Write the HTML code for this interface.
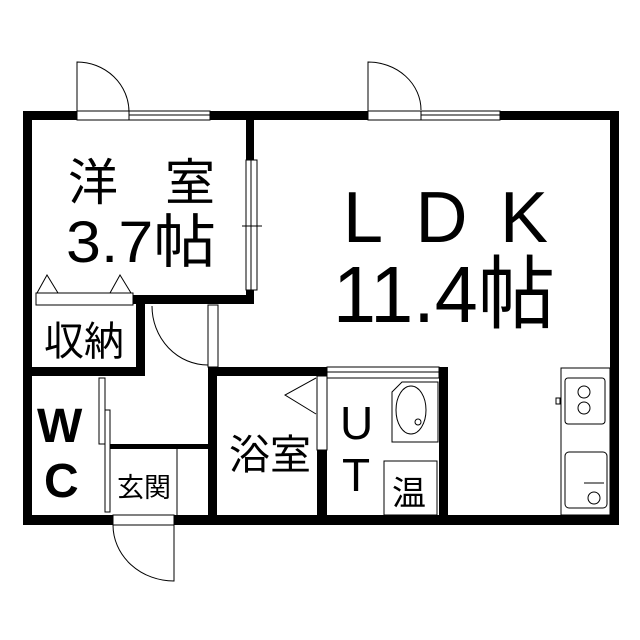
<!DOCTYPE html>
<html><head><meta charset="utf-8"><style>
body{margin:0;background:#fff}
svg{display:block}
text{font-family:"Liberation Sans","Noto Sans CJK JP",sans-serif;fill:#000}
</style></head><body>
<svg width="640" height="640" viewBox="0 0 640 640" xmlns="http://www.w3.org/2000/svg">
<rect width="640" height="640" fill="#fff"/>
<g fill="#000">
<rect x="23" y="111" width="596" height="9"/>
<rect x="23" y="111" width="9" height="414"/>
<rect x="610" y="111" width="9" height="414"/>
<rect x="23" y="515" width="596" height="10"/>
<rect x="246" y="111" width="8" height="49"/>
<rect x="246" y="290" width="8" height="14"/>
<rect x="130" y="295" width="124" height="9"/>
<rect x="136" y="304" width="9" height="72"/>
<rect x="23" y="367" width="122" height="9"/>
<rect x="208" y="367" width="120" height="9"/>
<rect x="208" y="367" width="9" height="150"/>
<rect x="317" y="450" width="10" height="67"/>
<rect x="327" y="367" width="121" height="3"/>
<rect x="439" y="367" width="9" height="150"/>
<rect x="110" y="444" width="98" height="5"/>
</g>
<g fill="#fff" stroke="#000" stroke-width="1">
<rect x="77" y="111" width="52" height="9"/>
<rect x="129" y="111" width="81" height="9"/><line x1="129" y1="115" x2="210" y2="115"/>
<rect x="368" y="111" width="53" height="9"/>
<rect x="421" y="111" width="79" height="9"/><line x1="421" y1="115" x2="500" y2="115"/>
<rect x="246" y="160" width="11" height="130"/><line x1="251" y1="160" x2="251" y2="290"/>
<line x1="242" y1="226" x2="262" y2="226"/>
<rect x="36" y="293" width="97" height="12"/>
<rect x="208" y="305" width="10" height="62"/>
<rect x="99" y="378" width="6" height="66"/>
<rect x="105" y="410" width="5" height="102"/>
<line x1="177" y1="449" x2="177" y2="515"/>
<rect x="113" y="515" width="61" height="10"/>
<rect x="317" y="376" width="10" height="74"/>
<rect x="327" y="367" width="112" height="11"/><line x1="327" y1="372" x2="439" y2="372"/>
<path d="M392 392 L402 382 L438 382 L438 442 L392 442 Z"/>
<ellipse cx="411" cy="410" rx="15" ry="24"/>
<circle cx="418" cy="422" r="3"/>
<rect x="384" y="461" width="53" height="54"/>
<rect x="561" y="368" width="49" height="147"/>
<rect x="565" y="378" width="40" height="46" rx="3"/>
<circle cx="584" cy="392" r="6"/><circle cx="584" cy="408" r="6"/>
<rect x="565" y="452" width="42" height="56" rx="4"/>
<circle cx="594" cy="498" r="6"/>
<rect x="556" y="398" width="4" height="6"/>
</g>
<g fill="none" stroke="#000" stroke-width="1">
<path d="M77 111 L77 62 A52 50 0 0 1 129 112"/>
<path d="M368 111 L368 62 A53 48 0 0 1 421 110"/>
<path d="M152 306 A56 59 0 0 0 208 365"/>
<path d="M113 525 A61 56 0 0 0 174 581 L174 525"/>
<path d="M37 293 L47 275 L58 293 M110 293 L120 275 L131 293"/>
<path d="M316 378 L285 395 L316 414"/>
<line x1="584" y1="483" x2="604" y2="483"/>
</g>
<text x="68" y="200" font-size="50">洋</text>
<text x="165" y="200" font-size="50">室</text>
<text x="66" y="262" font-size="58" textLength="150" lengthAdjust="spacingAndGlyphs">3.7帖</text>
<text x="343" y="242" font-size="72" textLength="205" lengthAdjust="spacing">LDK</text>
<text x="333" y="322" font-size="80" textLength="222" lengthAdjust="spacingAndGlyphs">11.4帖</text>
<text x="44" y="355" font-size="40">収納</text>
<text x="37" y="442" font-size="48" font-weight="bold">W</text>
<text x="44" y="497" font-size="48" font-weight="bold">C</text>
<text x="117" y="497" font-size="27">玄関</text>
<text x="229" y="469" font-size="41">浴室</text>
<text x="340" y="439" font-size="46">U</text>
<text x="342" y="491" font-size="46">T</text>
<text x="392" y="505" font-size="34">温</text>
</svg>
</body></html>
